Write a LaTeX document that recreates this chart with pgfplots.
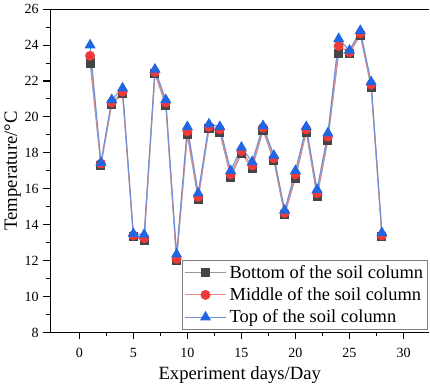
\documentclass[border=0pt]{standalone}
\usepackage{fontspec}
\setmainfont{Liberation Serif}
\usepackage{pgfplots}
\pgfplotsset{compat=1.18}
\usepackage{pgfplotstable}
\pgfplotstableread{
day B M T
1 23.0 23.4 24.0
2 17.3 17.4 17.45
3 20.7 20.8 20.95
4 21.3 21.4 21.6
5 13.35 13.4 13.5
6 13.1 13.25 13.45
7 22.4 22.5 22.65
8 20.65 20.8 20.95
9 12.0 12.1 12.35
10 19.0 19.2 19.45
11 15.4 15.55 15.75
12 19.35 19.45 19.6
13 19.15 19.3 19.45
14 16.65 16.8 17.0
15 17.95 18.1 18.3
16 17.15 17.3 17.5
17 19.25 19.4 19.5
18 17.55 17.7 17.85
19 14.55 14.65 14.8
20 16.6 16.8 17.0
21 19.15 19.3 19.45
22 15.55 15.75 15.95
23 18.7 18.9 19.1
24 23.55 23.95 24.35
25 23.55 23.6 23.7
26 24.55 24.65 24.8
27 21.65 21.8 21.95
28 13.35 13.4 13.55
}\data
\definecolor{cB}{HTML}{454545}
\definecolor{cBl}{HTML}{9A9A9A}
\definecolor{cM}{HTML}{F03A3A}
\definecolor{cMl}{HTML}{F08A8A}
\definecolor{cT}{HTML}{1F66E5}
\definecolor{cTl}{HTML}{6F8FD8}
\begin{document}
\begin{tikzpicture}
\begin{axis}[
  scale only axis,
  width=284pt, height=242pt,
  xmin=-2.7, xmax=32.4, ymin=8, ymax=26,
  axis x line*=box, axis y line*=left,
  axis line style={-, line width=0.8pt, black},
  xtick pos=left,
  xtick={0,5,...,30}, ytick={8,10,...,26},
  minor x tick num=1, minor y tick num=1,
  tick align=outside,
  major tick length=5pt, minor tick length=3pt,
  tick style={black, line width=0.8pt},
  /pgf/number format/assume math mode=true,
  ticklabel style={font=\fontsize{10.5}{12}\selectfont},
  xticklabel style={yshift=-3pt},
  xlabel={Experiment days/Day},
  ylabel={Temperature/°C},
  label style={font=\fontsize{14}{16}\selectfont},
  xlabel style={yshift=0pt},
  ylabel style={yshift=-4pt},
  legend style={at={(rel axis cs:0.995,0.008)}, anchor=south east,
    draw=gray, line width=0.6pt, font=\fontsize{13.8}{15}\selectfont,
    row sep=1.5pt, inner xsep=1pt, inner ysep=1.5pt},
  legend cell align=left,
  legend image code/.code={
    \draw[mark repeat=2,mark phase=2,#1] plot coordinates {(0cm,0cm) (0.55cm,0cm) (1.1cm,0cm)};
  },
]
\addplot[cBl, line width=0.8pt, mark=square*, mark size=3pt, mark options={fill=cB, draw=cB}] table[x=day,y=B]{\data};
\addlegendentry{Bottom of the soil column}
\addplot[cMl, line width=0.8pt, mark=*, mark size=3.3pt, mark options={fill=cM, draw=cM}] table[x=day,y=M]{\data};
\addlegendentry{Middle of the soil column}
\addplot[cTl, line width=0.8pt, mark=triangle*, mark size=4pt, mark options={fill=cT, draw=cT}] table[x=day,y=T]{\data};
\addlegendentry{Top of the soil column}
\end{axis}
\end{tikzpicture}
\end{document}
